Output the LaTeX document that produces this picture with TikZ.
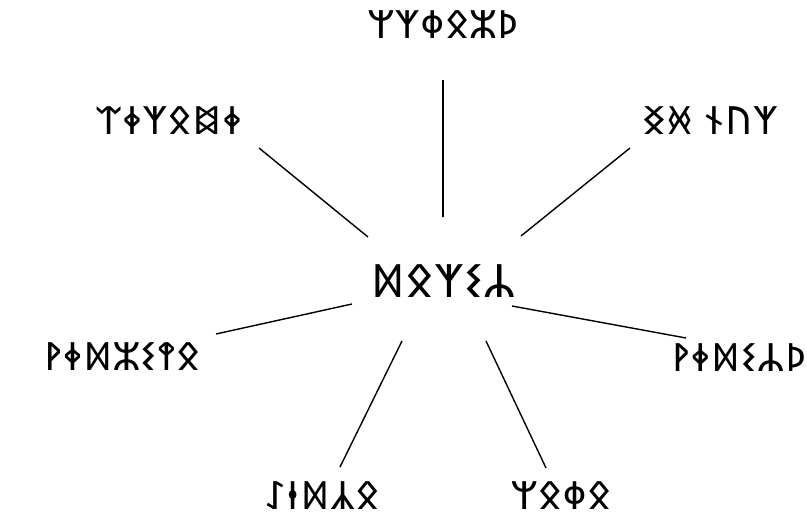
\documentclass[tikz,border=0pt]{standalone}
\usepackage{fontspec}
\newfontfamily\runic{Noto Sans Runic}[LetterSpace=4]

\begin{document}
\begin{tikzpicture}[x=1pt, y=-1pt,
      word/.style={font=\runic\fontsize{39}{43}\selectfont, inner sep=0pt},
      hubword/.style={font=\runic\fontsize{46}{50}\selectfont, inner sep=0pt},
      spoke/.style={line width=1.4pt, black}
    ]
    \useasboundingbox (0,0) rectangle (807,516);
    \node[hubword] (hub) at (443,281) {ᛞᛟᛉᛊᛦ};
    \node[word] (top) at (443,25) {ᛘᛉᛰᛟᛯᚦ};
    \node[word] (topright) at (710,121) {ᛝᚸ ᚾᚢᛉ};
    \node[word, anchor=east] (right) at (806,358) {ᚹᛄᛞᛊᛦᚦ};
    \node[word] (bottomright) at (561,496) {ᛘᛟᛰᛟ};
    \node[word] (bottomleft) at (322,496) {ᛇᚽᛞᛣᛟ};
    \node[word] (left) at (122,357) {ᚹᛄᛞᛯᛊᛳᛟ};
    \node[word] (topleft) at (169,121) {ᛠᛄᛉᛟᛥᛄ};
    % spoke ends
    \coordinate (top-in) at (443,217);    \coordinate (top-out) at (443,80);
    \coordinate (tl-in) at (368,237);     \coordinate (tl-out) at (259,148);
    \coordinate (tr-in) at (521,236);     \coordinate (tr-out) at (630,148);
    \coordinate (l-in) at (352,304);      \coordinate (l-out) at (216,334);
    \coordinate (r-in) at (512,306);      \coordinate (r-out) at (686,338);
    \coordinate (bl-in) at (402,341);     \coordinate (bl-out) at (340,467);
    \coordinate (br-in) at (486,341);     \coordinate (br-out) at (546,468);
    \draw[spoke] (top-in) -- (top-out);
    \draw[spoke] (tl-in) -- (tl-out);
    \draw[spoke] (tr-in) -- (tr-out);
    \draw[spoke] (l-in) -- (l-out);
    \draw[spoke] (r-in) -- (r-out);
    \draw[spoke] (bl-in) -- (bl-out);
    \draw[spoke] (br-in) -- (br-out);
  \end{tikzpicture}
\end{document}
